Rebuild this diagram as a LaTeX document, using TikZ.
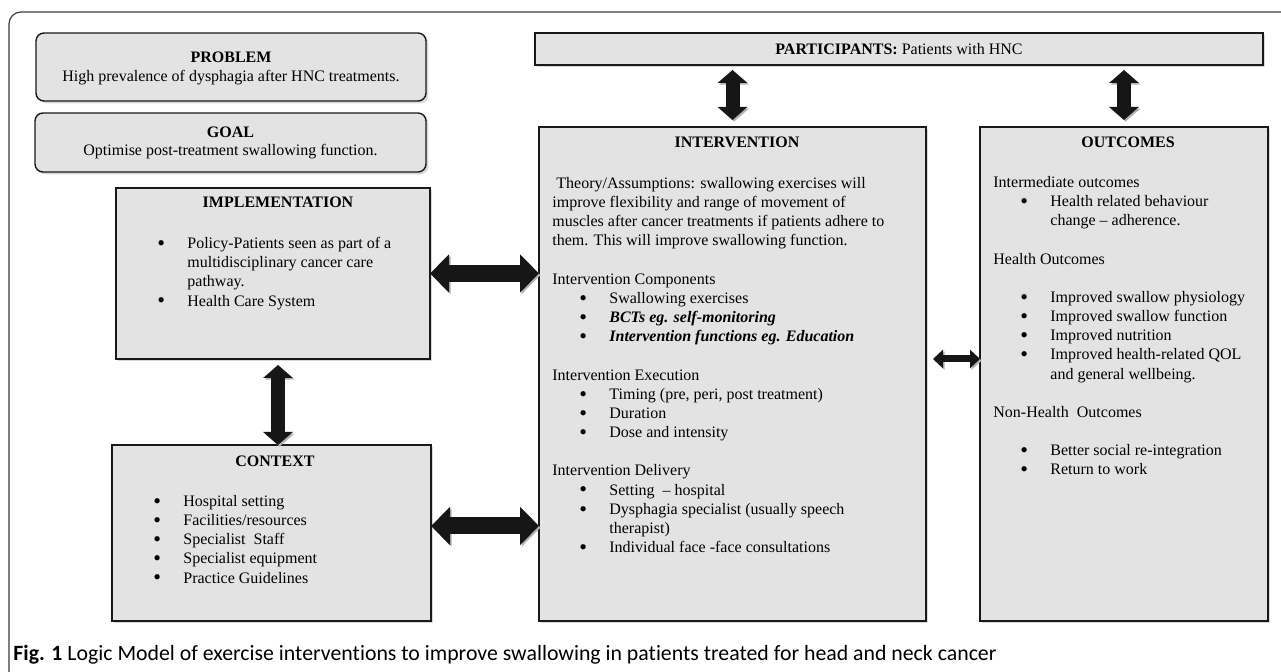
\documentclass[tikz,border=0pt]{standalone}
\usepackage{fontspec}
\setmainfont{Liberation Serif}
\newfontfamily\capfont[Ligatures=NoCommon]{Carlito}
\usepackage{xcolor}
\usetikzlibrary{arrows.meta, positioning, shadows}
\definecolor{BoxGray}{HTML}{E3E3E3}
\definecolor{ArrowBlack}{HTML}{161616}
\definecolor{FrameGray}{HTML}{3A3A3A}
\newcommand{\bul}{\makebox[15pt][l]{\raisebox{-0.9pt}{\fontsize{11}{11}\selectfont\textbullet}}}
\newcommand{\ind}{\hspace*{13.5pt}}
\newcommand{\cnt}{\hspace*{15pt}}

\begin{document}
\begin{tikzpicture}[
    x=0.5pt, y=-0.5pt,   % one unit = one pixel, y pointing down
    every node/.style={font=\fontsize{8}{9.58}\selectfont},
    box/.style={draw=black!90, line width=0.7pt, fill=BoxGray, inner sep=0pt, outer sep=0pt,
        drop shadow={shadow xshift=1.2pt, shadow yshift=-1.2pt, opacity=0.3}},
    rbox/.style={box, rounded corners=4pt},
    ttl/.style={anchor=base, inner sep=0pt, font=\fontsize{8}{9.58}\selectfont\bfseries},
    line/.style={anchor=base, inner sep=0pt},
    body/.style={anchor=north west, inner sep=0pt, align=left, execute at begin node=\strut},
    arrshadow/.style={preaction={draw=black!30, transform canvas={shift={(0.8pt,-0.8pt)}}}},
    bigarr/.style={arrshadow, draw=ArrowBlack, line width=8.5pt,
        {Triangle[length=9.5pt, width=18.5pt]}-{Triangle[length=9.5pt, width=18.5pt]}},
    midarr/.style={arrshadow, draw=ArrowBlack, line width=7pt,
        {Triangle[length=6.5pt, width=14.5pt]}-{Triangle[length=6.5pt, width=14.5pt]}},
    smlarr/.style={arrshadow, draw=ArrowBlack, line width=3.5pt,
        {Triangle[length=5pt, width=9pt]}-{Triangle[length=5pt, width=9pt]}}
]

    % --- 1. Page and outer frame ---
    \useasboundingbox (0,0) rectangle (1281,672);
    \clip (0,0) rectangle (1281,672);
    \draw[FrameGray, line width=0.6pt, rounded corners=6pt] (9,12) rectangle (1320,720);

    % --- 2. Problem and goal ---
    \node[rbox, minimum width=195pt, minimum height=34pt] (prob) at (231,67) {};
    \node[ttl] (prob-t) at (prob.center |- 0,62.5) {PROBLEM};
    \node[line] (prob-b) at (prob.center |- 0,81.5) {High prevalence of dysphagia after HNC treatments.};

    \node[rbox, minimum width=195.5pt, minimum height=29.5pt] (goal) at (230.5,142.5) {};
    \node[ttl] (goal-t) at (goal.center |- 0,137.5) {GOAL};
    \node[line] (goal-b) at (goal.center |- 0,155.5) {Optimise post-treatment swallowing function.};

    % --- 3. The boxes ---
    \node[box, minimum width=364pt, minimum height=16pt] (part) at (899,49)
        {\textbf{PARTICIPANTS:} Patients with HNC};
    \node[box, minimum width=157pt, minimum height=85.5pt] (impl) at (273,273.5) {};
    \node[box, minimum width=159.5pt, minimum height=88pt] (ctx) at (271.5,533) {};
    \node[box, minimum width=193.5pt, minimum height=247pt] (intv) at (732.5,374) {};
    \node[box, minimum width=144pt, minimum height=247pt] (outc) at (1124,374) {};

    % Titles
    \node[ttl] (impl-t) at (278,208) {IMPLEMENTATION};
    \node[ttl] (ctx-t) at (275,467) {CONTEXT};
    \node[ttl] (intv-t) at (737,148) {INTERVENTION};
    \node[ttl] (outc-t) at (1128,148) {OUTCOMES};

    % --- 4. Box contents ---
    \node[body] (impl-b) at (157,237) {%
        \bul Policy-Patients seen as part of a\\
        \cnt multidisciplinary cancer care\\
        \cnt pathway.\\
        \bul Health Care System};

    \node[body] (ctx-b) at (153,495) {%
        \bul Hospital setting\\
        \bul Facilities/resources\\
        \bul Specialist\ \ Staff\\
        \bul Specialist equipment\\
        \bul Practice Guidelines};

    \node[body] (intv-b) at (552,177) {%
        \hspace*{2pt}Theory/Assumptions: swallowing exercises will\\
        improve flexibility and range of movement of\\
        muscles after cancer treatments if patients adhere to\\
        them. This will improve swallowing function.\\[9.58pt]
        Intervention Components\\
        \ind\bul Swallowing exercises\\
        \ind\bul\textbf{\textit{BCTs eg. self-monitoring}}\\
        \ind\bul\textbf{\textit{Intervention functions eg. Education}}\\[9.58pt]
        Intervention Execution\\
        \ind\bul Timing (pre, peri, post treatment)\\
        \ind\bul Duration\\
        \ind\bul Dose and intensity\\[9.58pt]
        Intervention Delivery\\
        \ind\bul Setting\ \ -- hospital\\
        \ind\bul Dysphagia specialist (usually speech\\
        \ind\cnt therapist)\\
        \ind\bul Individual face -face consultations};

    \node[body] (outc-b) at (993,176) {%
        Intermediate outcomes\\
        \ind\bul Health related behaviour\\
        \ind\cnt change -- adherence.\\[9.58pt]
        Health Outcomes\\[9.58pt]
        \ind\bul Improved swallow physiology\\
        \ind\bul Improved swallow function\\
        \ind\bul Improved nutrition\\
        \ind\bul Improved health-related QOL\\
        \ind\cnt and general wellbeing.\\[9.58pt]
        Non-Health\ \ Outcomes\\[9.58pt]
        \ind\bul Better social re-integration\\
        \ind\bul Return to work};

    % --- 5. Arrows between the boxes ---
    \draw[midarr, shorten <=2.5pt, shorten >=3.5pt] (part.south -| intv.north) -- (intv.north);
    \draw[midarr, shorten <=2.5pt, shorten >=3.5pt] (part.south -| outc.north) -- (outc.north);

    \draw[bigarr] (impl.east) -- (impl.east -| intv.west);
    \coordinate (ctxR) at ([yshift=3.5pt]ctx.east);
    \draw[bigarr] (ctxR) -- (ctxR -| intv.west);

    \coordinate (implB) at ([xshift=2.5pt]impl.south);
    \draw[midarr, shorten <=3pt] (implB) -- (implB |- ctx.north);

    \coordinate (intvR) at ([yshift=7.5pt]intv.east);
    \draw[smlarr, shorten <=3.5pt] (intvR) -- (intvR -| outc.west);

    % --- 6. Caption ---
    \node[anchor=base west, inner sep=0pt, font=\capfont\fontsize{10.9}{12}\selectfont] (caption) at (13,661)
        {\textbf{Fig. 1} Logic Model of exercise interventions to improve swallowing in patients treated for head and neck cancer};

\end{tikzpicture}
\end{document}
